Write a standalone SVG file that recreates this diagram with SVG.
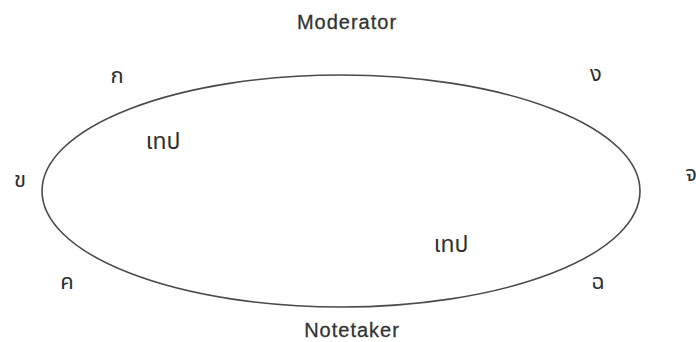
<svg xmlns="http://www.w3.org/2000/svg" width="696" height="342" viewBox="0 0 696 342">
<style>
text{font-family:"Noto Sans Thai","Liberation Sans","Noto Sans",sans-serif;fill:#2e2e2e}
.lbl{font-family:"Liberation Sans",Arial,sans-serif;font-size:20px;letter-spacing:1px;fill:#333;stroke:#333;stroke-width:0.3}
.seat{font-size:22px}
.tape{font-size:23px}
.conn{fill:none;stroke:#4a4a4a;stroke-width:1.6}
</style>
<rect width="696" height="342" fill="#fff"/>
<g id="connectors">
<ellipse class="conn" cx="341" cy="191" rx="299" ry="116"/>
</g>
<g id="moderator"><text class="lbl" x="347" y="29" text-anchor="middle">Moderator</text></g>
<g id="notetaker"><text class="lbl" x="352" y="337" text-anchor="middle">Notetaker</text></g>
<g id="seat-ko"><text class="seat" x="117" y="83" text-anchor="middle">ก</text></g>
<g id="seat-ngo"><text class="seat" x="596" y="81" text-anchor="middle">ง</text></g>
<g id="seat-kho"><text class="seat" x="20" y="187" text-anchor="middle">ข</text></g>
<g id="seat-cho"><text class="seat" x="691" y="181" text-anchor="middle">จ</text></g>
<g id="seat-kho2"><text class="seat" x="67" y="289" text-anchor="middle">ค</text></g>
<g id="seat-chi"><text class="seat" x="598" y="289" text-anchor="middle">ฉ</text></g>
<g id="tape1"><text class="tape" x="163" y="149" text-anchor="middle">เทป</text></g>
<g id="tape2"><text class="tape" x="451" y="252" text-anchor="middle">เทป</text></g>
</svg>
